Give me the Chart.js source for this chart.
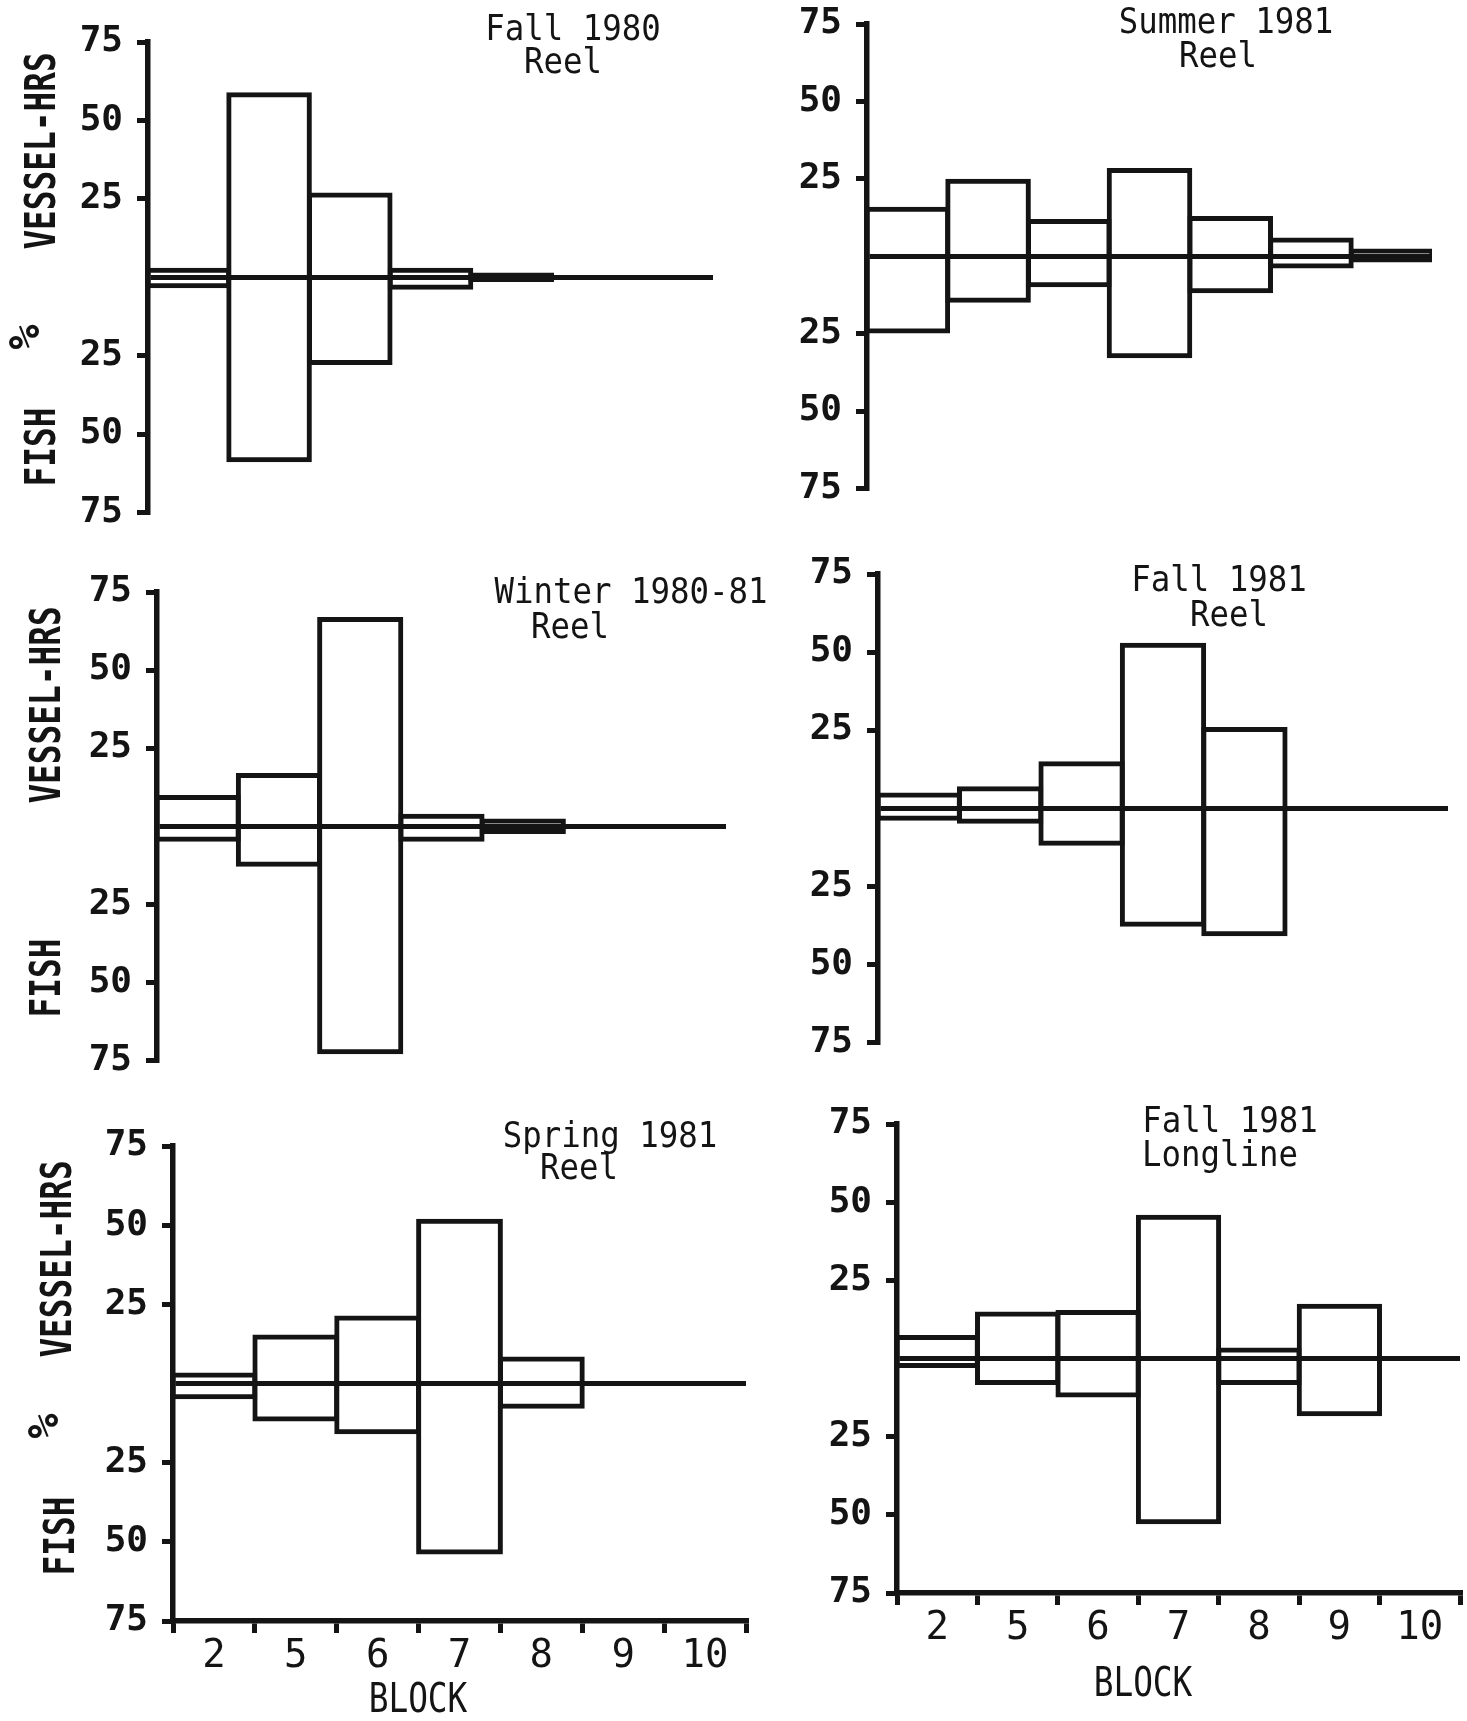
<!DOCTYPE html>
<html>
<head>
<meta charset="utf-8">
<script src="https://cdn.jsdelivr.net/npm/chart.js@4.4.1/dist/chart.umd.min.js"></script>
<style>
html,body{margin:0;padding:0;background:#ffffff;overflow:hidden;width:1467px;height:1721px;}
canvas{position:absolute;}
</style>
</head>
<body>
<canvas id="p1"></canvas>
<canvas id="p2"></canvas>
<canvas id="p3"></canvas>
<canvas id="p4"></canvas>
<canvas id="p5"></canvas>
<canvas id="p6"></canvas>
<script>
// ---------- data ----------
const blocks = ['2', '5', '6', '7', '8', '9', '10'];
const yTickValues = [-75, -50, -25, 0, 25, 50, 75];
const yTickLabels = ['75', '50', '25', '', '25', '50', '75'];

// percent of vessel-hours (upward) and percent of fish (downward) per block
const fall1980ReelVessel   = [3, 59, 27, 3, 1.5, null, null];
const fall1980ReelFish     = [3.5, 59, 28, 4, 1.5, null, null];

const summer1981ReelVessel = [16, 25, 12, 28.5, 13, 6, 2.5];
const summer1981ReelFish   = [25, 15, 10, 33, 12, 4, 2];

const winter8081ReelVessel = [10, 17, 67, 4, 2.5, null, null];
const winter8081ReelFish   = [5, 13, 73, 5, 2.5, null, null];

const fall1981ReelVessel   = [5, 7, 15, 53, 26, null, null];
const fall1981ReelFish     = [4, 5, 12, 38, 41, null, null];

const spring1981ReelVessel = [3.5, 15.5, 21.5, 52, 8.5, null, null];
const spring1981ReelFish   = [5, 12, 16, 54, 8, null, null];

const fall1981LongVessel   = [7.5, 15, 15.5, 46, 3.5, 17.5, null];
const fall1981LongFish     = [3, 8.5, 12.5, 53, 8.5, 18.5, null];

// ---------- style / layout ----------
const INK = '#141414';
const FONT = "'DejaVu Sans Mono', 'Liberation Mono', monospace";
const Y_AXIS_W = 170, PAD_TOP = 40, PAD_RIGHT = 60, X_AXIS_H = 128, PAD_BOTTOM = 30;

const panels = [
  { id: 'p1', vessel: fall1980ReelVessel, fish: fall1980ReelFish, area: [148, 42, 713, 518], bottom: false,
    title: [['Fall 1980', 573, 31], ['Reel', 563, 64]],
    yTitles: [['VESSEL-HRS', 44, 151, 42], ['%', 28, 337, 42], ['FISH', 44, 447, 42]] },
  { id: 'p2', vessel: summer1981ReelVessel, fish: summer1981ReelFish, area: [867, 24, 1432, 494], bottom: false,
    title: [['Summer 1981', 1226, 24], ['Reel', 1218, 58]], yTitles: [] },
  { id: 'p3', vessel: winter8081ReelVessel, fish: winter8081ReelFish, area: [157, 592, 726, 1066], bottom: false,
    title: [['Winter 1980-81', 631, 594], ['Reel', 570, 629]],
    yTitles: [['VESSEL-HRS', 49, 705, 42], ['FISH', 49, 978, 42]] },
  { id: 'p4', vessel: fall1981ReelVessel, fish: fall1981ReelFish, area: [878, 574, 1448, 1048], bottom: false,
    title: [['Fall 1981', 1219, 582], ['Reel', 1229, 617]], yTitles: [] },
  { id: 'p5', vessel: spring1981ReelVessel, fish: spring1981ReelFish, area: [173, 1146, 746, 1621], bottom: true,
    title: [['Spring 1981', 610, 1138], ['Reel', 579, 1170]],
    yTitles: [['VESSEL-HRS', 60, 1259, 42], ['%', 47, 1426, 42], ['FISH', 63, 1536, 42]],
    xTitle: ['BLOCK', 418, 1702] },
  { id: 'p6', vessel: fall1981LongVessel, fish: fall1981LongFish, area: [897, 1124, 1460, 1593], bottom: true,
    title: [['Fall 1981', 1230, 1123], ['Longline', 1220, 1157]], yTitles: [],
    xTitle: ['BLOCK', 1143, 1686] }
];

// text drawn on each panel's canvas
const panelText = {
  id: 'panelText',
  afterDraw(chart, args, opts) {
    const ctx = chart.ctx;
    const ox = opts.ox, oy = opts.oy;
    ctx.save();
    ctx.fillStyle = INK;
    ctx.textAlign = 'center';
    ctx.textBaseline = 'middle';
    (opts.title || []).forEach(([t, x, y]) => {
      ctx.save();
      ctx.translate(x - ox, y - oy);
      ctx.scale(0.9, 1);
      ctx.font = '36px ' + FONT;
      ctx.fillText(t, 0, 0);
      ctx.restore();
    });
    (opts.yTitles || []).forEach(([t, x, y, size]) => {
      ctx.save();
      ctx.translate(x - ox, y - oy);
      ctx.rotate(-Math.PI / 2);
      ctx.scale(t === '%' ? 1 : 0.78, 1);
      ctx.font = 'bold ' + size + 'px ' + FONT;
      ctx.fillText(t, 0, 0);
      ctx.restore();
    });
    if (opts.xTitle) {
      const [t, x, y] = opts.xTitle;
      ctx.save();
      ctx.translate(x - ox, y - oy);
      ctx.scale(0.82, 1);
      ctx.font = '40px ' + FONT;
      ctx.fillText(t, 0, 0);
      ctx.restore();
    }
    ctx.restore();
  }
};

panels.forEach(p => {
  const [L, T, R, B] = p.area;
  const cv = document.getElementById(p.id);
  const left = L - Y_AXIS_W, top = T - PAD_TOP;
  const w = (R - L) + Y_AXIS_W + PAD_RIGHT;
  const h = (B - T) + PAD_TOP + (p.bottom ? X_AXIS_H : PAD_BOTTOM);
  cv.style.left = left + 'px';
  cv.style.top = top + 'px';
  cv.width = w; cv.height = h;
  cv.style.width = w + 'px'; cv.style.height = h + 'px';

  const data = blocks.map((b, i) => (p.vessel[i] == null ? null : [-p.fish[i], p.vessel[i]]));

  new Chart(cv, {
    type: 'bar',
    data: {
      labels: blocks,
      datasets: [{
        data: data,
        backgroundColor: 'rgba(255,255,255,0)',
        borderColor: INK,
        borderWidth: 5,
        borderSkipped: false,
        categoryPercentage: 1,
        barPercentage: 1.06
      }]
    },
    options: {
      responsive: false,
      animation: false,
      devicePixelRatio: 1,
      layout: { padding: { left: 0, right: PAD_RIGHT, top: PAD_TOP, bottom: p.bottom ? 0 : PAD_BOTTOM } },
      plugins: {
        legend: { display: false },
        tooltip: { enabled: false },
        panelText: { ox: left, oy: top, title: p.title, yTitles: p.yTitles, xTitle: p.xTitle }
      },
      scales: {
        x: {
          type: 'category',
          offset: true,
          display: p.bottom,
          grid: { offset: true, drawOnChartArea: false, color: INK, lineWidth: 5, tickLength: 12 },
          border: { display: true, color: INK, width: 5.5 },
          ticks: { font: { family: FONT, size: 39 }, color: INK, padding: 0, maxRotation: 0, autoSkip: false },
          afterFit: s => { if (p.bottom) s.height = X_AXIS_H; }
        },
        y: {
          min: -75, max: 75,
          afterBuildTicks: s => { s.ticks = yTickValues.map(v => ({ value: v })); },
          ticks: {
            callback: (v, i) => yTickLabels[i],
            font: { family: FONT, size: 36, weight: 'bold' }, color: INK, padding: 14
          },
          grid: {
            drawOnChartArea: true,
            color: c => (c.tick && c.tick.value === 0 ? INK : 'rgba(0,0,0,0)'),
            lineWidth: 5,
            tickColor: c => (c.tick && c.tick.value === 0 ? 'rgba(0,0,0,0)' : INK),
            tickWidth: 5,
            tickLength: 11
          },
          border: { display: true, color: INK, width: 5.5 },
          afterFit: s => { s.width = Y_AXIS_W; }
        }
      }
    },
    plugins: [panelText]
  });
});
</script>
</body>
</html>
